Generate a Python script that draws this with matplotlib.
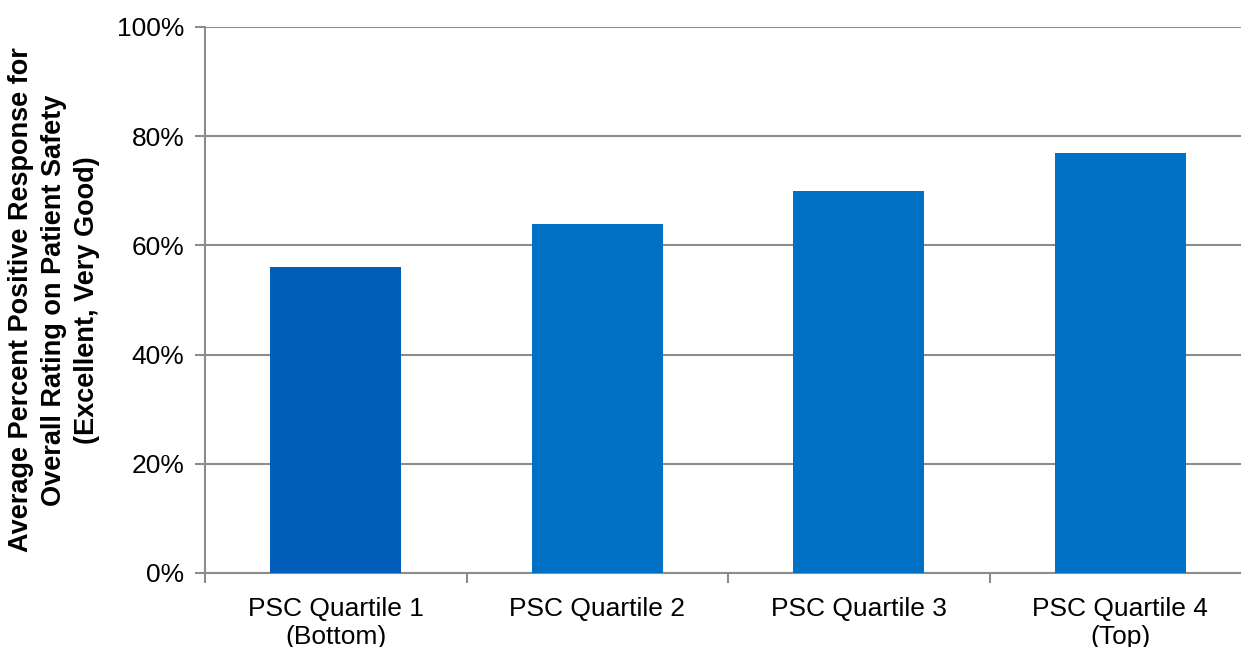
import matplotlib.pyplot as plt
import numpy as np

categories = ['PSC Quartile 1\n(Bottom)', 'PSC Quartile 2', 'PSC Quartile 3', 'PSC Quartile 4\n(Top)']
values = [56, 64, 70, 77]
bar_colors = ['#005EB8', '#0071C5', '#0071C5', '#0071C5']
ytick_values = [0, 20, 40, 60, 80, 100]
ylabel = 'Average Percent Positive Response for\nOverall Rating on Patient Safety\n(Excellent, Very Good)'

plt.rcParams['font.family'] = ['Liberation Sans', 'DejaVu Sans']

fig = plt.figure(figsize=(12.41, 6.47), dpi=100)
ax = fig.add_axes([205 / 1241, 0.1144, 1046 / 1241, 0.8439])

x = np.arange(len(categories))
ax.bar(x, values, width=0.5, color=bar_colors, zorder=3)

ax.set_xlim(-0.5, len(categories) - 0.5)
ax.set_ylim(0, 100)
ax.set_yticks(ytick_values)
ax.set_yticklabels([f'{v}%' for v in ytick_values], fontsize=19)
ax.yaxis.grid(True, color='#8c8c8c', linewidth=1.5, zorder=0)

ax.set_xticks(x)
ax.set_xticklabels(categories, fontsize=19, linespacing=1.25)
ax.tick_params(axis='x', length=0, pad=17)
ax.set_xticks(np.arange(len(categories) + 1) - 0.5, minor=True)
ax.tick_params(axis='x', which='minor', length=7, width=1.5, color='#8c8c8c', direction='out')
ax.tick_params(axis='y', length=7, width=1.5, color='#8c8c8c', pad=8)

for s in ['top', 'right']:
    ax.spines[s].set_visible(False)
for s in ['left', 'bottom']:
    ax.spines[s].set_color('#8c8c8c')
    ax.spines[s].set_linewidth(1.5)

ax.set_ylabel(ylabel, fontsize=19.5, fontweight='bold', linespacing=1.35, labelpad=12)

plt.savefig('out.png', dpi=100)
plt.close()
